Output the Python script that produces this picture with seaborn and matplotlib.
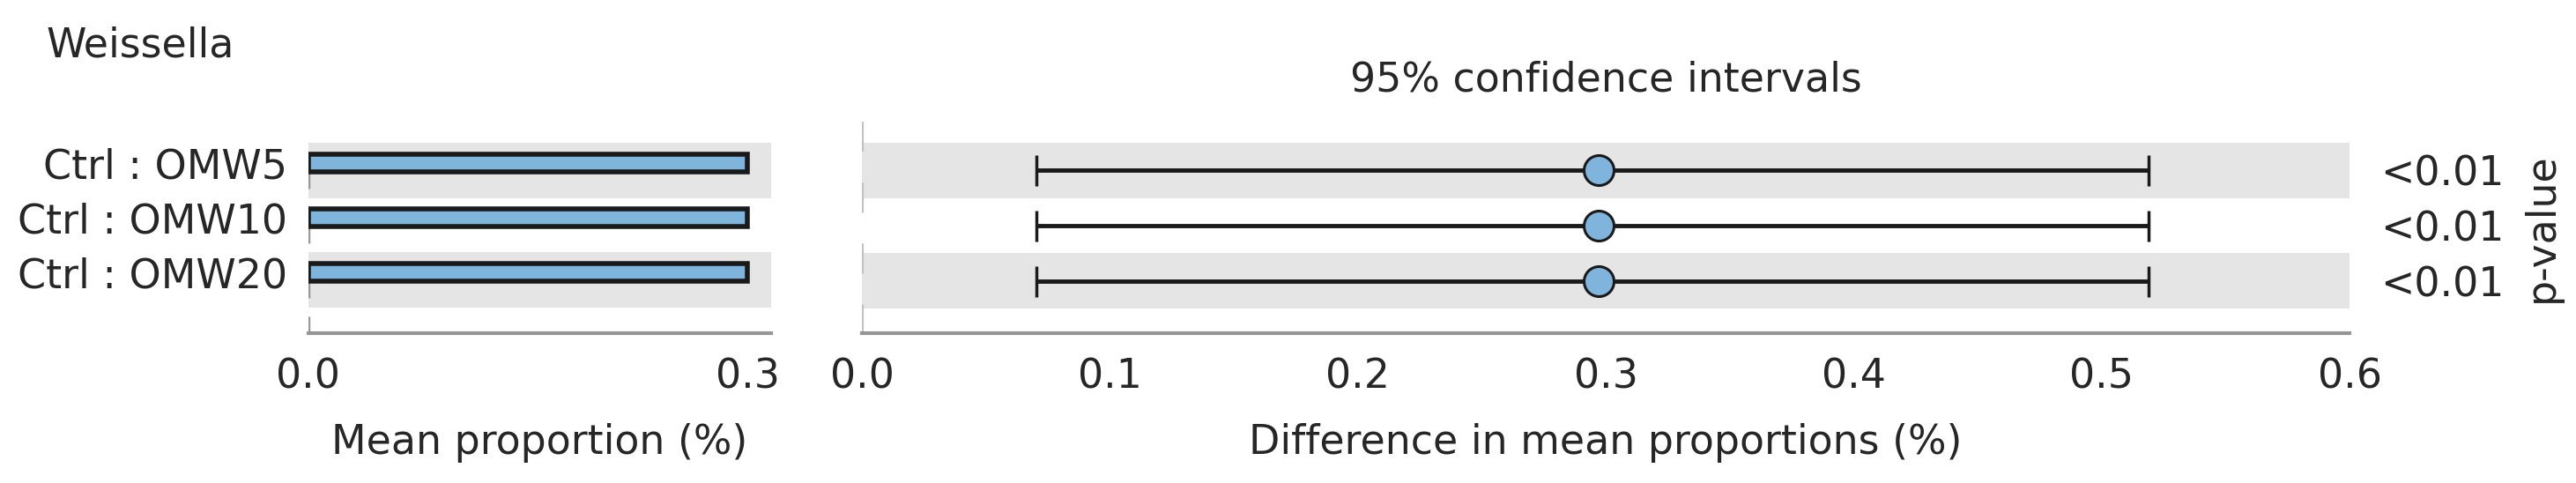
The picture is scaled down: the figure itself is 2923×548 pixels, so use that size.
# plot.py
# STAMP-style extended error bar plot for Weissella

import numpy as np
import pandas as pd
import seaborn as sns
import matplotlib.pyplot as plt

# data
feature = "Weissella"
comparisons = ["Ctrl : OMW5", "Ctrl : OMW10", "Ctrl : OMW20"]
mean_prop = [0.300, 0.300, 0.300]
diff_mean = [0.297, 0.297, 0.297]
ci_low = [0.0705, 0.0705, 0.0705]
ci_high = [0.519, 0.519, 0.519]
p_values = ["<0.01", "<0.01", "<0.01"]
left_ticks = [0.0, 0.3]
right_ticks = [0.0, 0.1, 0.2, 0.3, 0.4, 0.5, 0.6]

# style constants
bar_color = "#7fb4dc"
edge_color = "#1a1a1a"
band_color = "#e5e5e5"
axis_gray = "#969696"
text_color = "#262626"
fs = 33

sns.set_theme(style="white")
plt.rcParams["font.family"] = ["DejaVu Sans"]
plt.rcParams["text.color"] = text_color
plt.rcParams["axes.labelcolor"] = text_color
plt.rcParams["xtick.color"] = text_color
plt.rcParams["ytick.color"] = text_color


def style_axis(ax, ticks):
    """ common look for both panels """
    for side in ["top", "right", "left"]:
        ax.spines[side].set_visible(False)
    ax.spines["bottom"].set_color(axis_gray)
    ax.spines["bottom"].set_linewidth(3)
    ax.set_xticks(ticks)
    ax.set_xticklabels([f"{t:.1f}" for t in ticks])
    ax.tick_params(axis="x", direction="in", length=15, width=1.8,
                   color=axis_gray, labelsize=fs, pad=20)
    ax.set_facecolor("white")


def plot_error_bars():
    df = pd.DataFrame({"comparison": comparisons, "mean_prop": mean_prop})
    rows = np.arange(len(comparisons))

    fig = plt.figure(figsize=(29.23, 5.48), dpi=100)
    ax_l = fig.add_axes([0.1197, 0.3102, 0.1796, 0.438])
    ax_r = fig.add_axes([0.3346, 0.3102, 0.5775, 0.438])

    # left panel: mean proportions
    bar_h = 0.31
    ylim_l = (3.113, -0.758)
    sns.barplot(data=df, x="mean_prop", y="comparison", orient="h", width=bar_h,
                color=bar_color, saturation=1, edgecolor=edge_color, linewidth=4,
                errorbar=None, ax=ax_l, zorder=3)
    ax_l.set_xlim(0, 0.316)
    ax_l.set_ylim(*ylim_l)
    for i in rows[::2]:
        ax_l.axhspan(i - 0.363, i + 0.645, color=band_color, lw=0, zorder=0)
    ax_l.plot([0, 0], [-0.2, ylim_l[0]], color="#9a9a9a", lw=2.5,
              dashes=(11.8, 6.05), zorder=1)
    style_axis(ax_l, left_ticks)
    ax_l.tick_params(axis="y", length=0, labelsize=fs, pad=17)
    ax_l.set_ylabel("")
    ax_l.set_xlabel("Mean proportion (%)", fontsize=fs, labelpad=21)

    # right panel: difference with 95% CI
    ylim_r = (2.952, -0.888)
    ax_r.set_xlim(0, 0.6)
    ax_r.set_ylim(*ylim_r)
    for i in rows[::2]:
        ax_r.axhspan(i - 0.5, i + 0.5, color=band_color, lw=0, zorder=0)
    ax_r.plot([0, 0], [ylim_r[1], ylim_r[0]], color="#c2c2c2", lw=3,
              dashes=(8.2, 8.4), zorder=1)
    xerr = [np.array(diff_mean) - np.array(ci_low), np.array(ci_high) - np.array(diff_mean)]
    ax_r.errorbar(diff_mean, rows, xerr=xerr, fmt="none", ecolor=edge_color,
                  elinewidth=3.5, capsize=12.6, capthick=2.5, zorder=3)
    sns.scatterplot(x=diff_mean, y=rows, s=600, color=bar_color, edgecolor=edge_color,
                    linewidth=2.2, zorder=5, ax=ax_r, legend=False)
    style_axis(ax_r, right_ticks)
    ax_r.set_yticks([])
    ax_r.set_xlabel("Difference in mean proportions (%)", fontsize=fs, labelpad=21)
    ax_r.set_title("95% confidence intervals", fontsize=fs, pad=25)

    # p-values on the right
    ax_p = ax_r.twinx()
    ax_p.set_ylim(*ylim_r)
    ax_p.set_yticks(rows)
    ax_p.set_yticklabels(p_values)
    ax_p.tick_params(axis="y", length=0, labelsize=fs, pad=25)
    for side in ["top", "right", "left", "bottom"]:
        ax_p.spines[side].set_visible(False)
    ax_p.set_ylabel("p-value", fontsize=fs, labelpad=15)

    fig.text(52 / 2923, 1 - 65 / 548, feature, fontsize=fs, ha="left", va="baseline")

    fig.savefig("out.png", dpi=100, facecolor="white")


if __name__ == "__main__":
    plot_error_bars()
